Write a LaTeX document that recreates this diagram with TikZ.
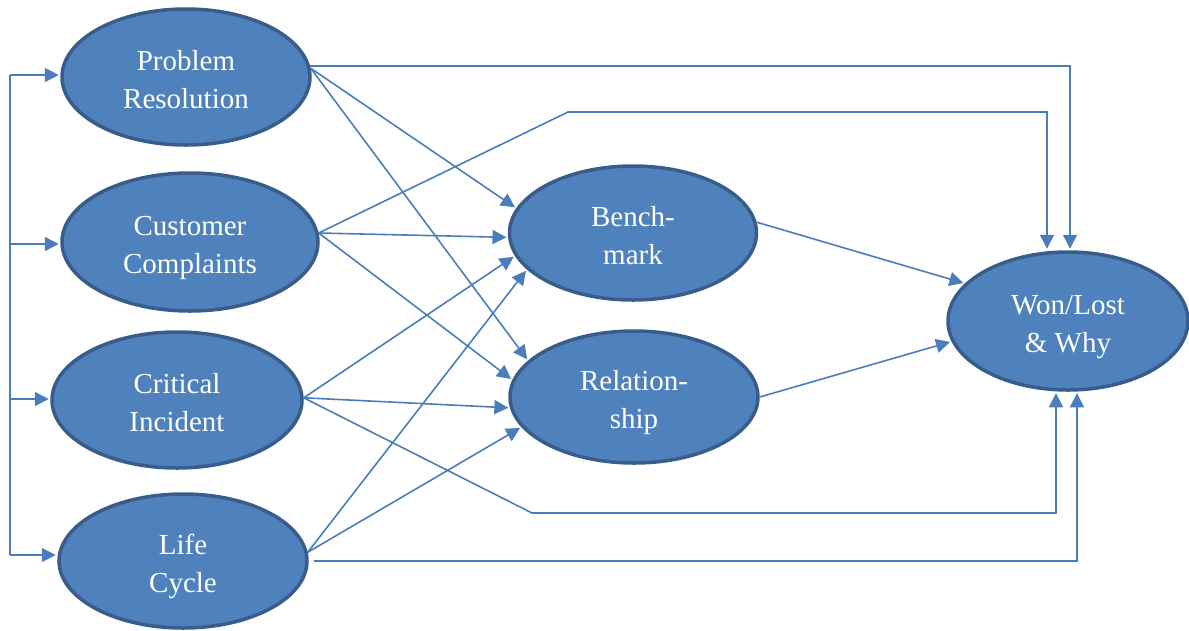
\documentclass[tikz,border=0pt]{standalone}
\usepackage{fontspec}
\setmainfont{Liberation Serif}
\usetikzlibrary{shapes.geometric,arrows.meta}
\definecolor{fillblue}{HTML}{4F81BD}
\definecolor{edgeblue}{HTML}{385D8A}
\definecolor{lineblue}{HTML}{4A7EBB}
\begin{document}
\begin{tikzpicture}[x=1pt,y=-1pt,
 oval/.style={ellipse, draw=edgeblue, line width=3.5pt, fill=fillblue, text=white, inner sep=0pt, align=center, text height=62pt, text depth=0pt, font=\fontsize{29}{38}\selectfont},
 conn/.style={draw=lineblue, line width=1.6pt},
 arr/.style={conn, -{Triangle[length=14pt,width=14pt]}, shorten >=1.5pt}]
\useasboundingbox (0,0) rectangle (1189,630);

\node[oval, minimum width=248pt, minimum height=136pt] (pr) at (186,77) {Problem\\Resolution};
\node[oval, minimum width=256pt, minimum height=138pt] (cc) at (190,242) {Customer\\Complaints};
\node[oval, minimum width=250pt, minimum height=136pt] (ci) at (177,400) {Critical\\Incident};
\node[oval, minimum width=248pt, minimum height=134pt] (lc) at (183,561) {Life\\Cycle};
\node[oval, minimum width=247pt, minimum height=134pt] (bm) at (633,233) {Bench-\\mark};
\node[oval, minimum width=248pt, minimum height=132pt] (rs) at (634,397) {Relation-\\ship};
\node[oval, minimum width=240pt, minimum height=138pt] (wl) at (1068,321) {Won/Lost\\\& Why};

% left bus
\coordinate (bus1) at (10,75);
\coordinate (bus2) at (10,244);
\coordinate (bus3) at (10,399);
\coordinate (bus4) at (10,555);
\draw[conn] (bus1) -- (bus4);
\draw[arr] (bus1) -- (bus1 -| pr.west);
\draw[arr] (bus2) -- (bus2 -| cc.west);
\draw[arr] (bus3) -- (bus3 -| ci.west);
\draw[arr] (bus4) -- (bus4 -| lc.west);

% Problem Resolution
\draw[arr] (pr.5) -| ([xshift=2pt]wl.north);
\draw[arr] (pr.4) -- (bm.168);
\draw[arr] (pr.4) -- (rs.161);

% Customer Complaints
\coordinate (kneeA) at (568,112);
\draw[arr] (cc.4) -- (kneeA) -| ([xshift=-21pt]wl.north);
\draw[arr] (cc.4) -- (bm.182);
\draw[arr] (cc.4) -- (rs.172);

% Critical Incident
\coordinate (kneeB) at (532,513);
\draw[arr] (ci.1) -- (bm.191);
\draw[arr] (ci.1) -- (rs.185);
\draw[arr] (ci.1) -- (kneeB) -| ([xshift=-12pt]wl.south);

% Life Cycle
\draw[arr] (lc.4) -- (bm.199);
\draw[arr] (lc.4) -- (rs.195);
\draw[arr] ([xshift=5pt]lc.east) -| ([xshift=9pt]wl.south);

% to Won/Lost
\draw[arr] (bm.5) -- (wl.160);
\draw[arr] (rs.east) -- (wl.190);
\end{tikzpicture}
\end{document}
